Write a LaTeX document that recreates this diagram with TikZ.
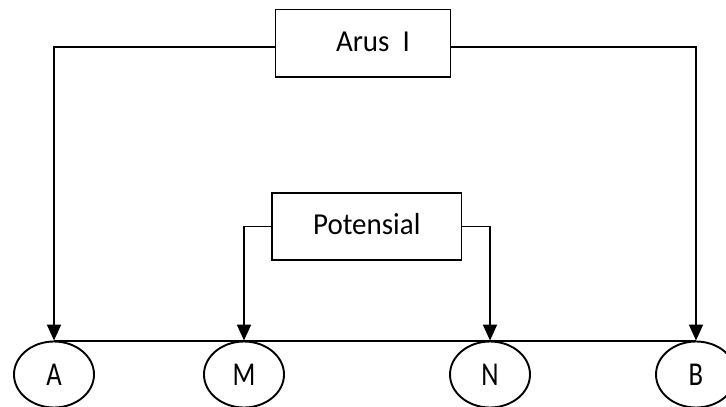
\documentclass[tikz,border=0pt]{standalone}
\usepackage{fontspec}
\setmainfont{Carlito}
\usetikzlibrary{shapes.geometric,arrows.meta}
\begin{document}
\begin{tikzpicture}[x=1pt,y=-1pt, line width=1.9pt, font=\fontsize{29}{32}\selectfont,
 box/.style={draw, rectangle, inner sep=0pt},
 elec/.style={draw, ellipse, minimum width=80pt, minimum height=66pt, inner sep=0pt},
 lbl/.style={},
 wire/.style={-{Triangle[width=14pt,length=16pt]}}]
\useasboundingbox (0,0) rectangle (726,407);
\node[box, minimum width=175pt, minimum height=67.5pt] (arus) at (363,43.25) {\hspace*{20pt}\raisebox{4pt}{\scalebox{1}[1.05]{Arus\ \ I}}};
\node[box, minimum width=189.5pt, minimum height=67pt] (pot) at (366.75,226.5) {\raisebox{5pt}{\scalebox{1}[1.05]{Potensial}}};
\node[elec] (A) at (54,374.5) {\scalebox{0.92}[1.15]{A}};
\node[elec] (M) at (244,374.5) {\scalebox{0.92}[1.15]{M}};
\node[elec] (N) at (490,374.5) {\scalebox{0.92}[1.15]{N}};
\node[elec] (B) at (696,374.5) {\scalebox{0.92}[1.15]{B}};
\draw (A.north) -- (B.north);
\draw[wire] ([yshift=-3.5pt]arus.west) -| (A.north);
\draw[wire] ([yshift=-3.5pt]arus.east) -| (B.north);
\draw[wire] (pot.west) -| (M.north);
\draw[wire] (pot.east) -| (N.north);
\end{tikzpicture}
\end{document}
